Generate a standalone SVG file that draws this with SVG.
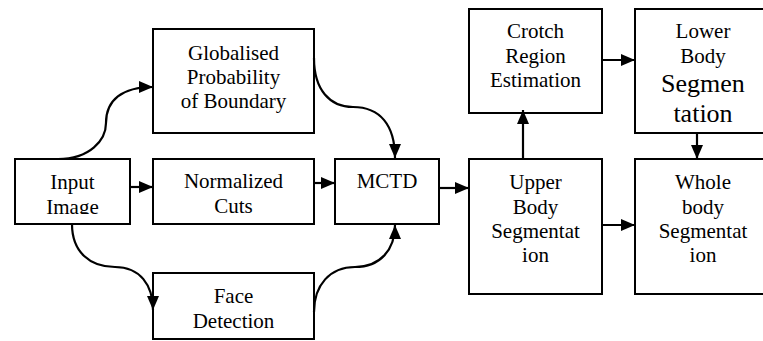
<svg xmlns="http://www.w3.org/2000/svg" width="763" height="341" viewBox="0 0 763 341">
<defs>
<marker id="ah" markerUnits="userSpaceOnUse" markerWidth="15" markerHeight="14" refX="14" refY="7" orient="auto">
<path d="M0,1 L14,7 L0,13 Z" fill="#000"/>
</marker>
<clipPath id="clipInput"><rect x="0" y="0" width="763" height="214"/></clipPath>
</defs>
<rect width="763" height="341" fill="#fff"/>
<g id="input"><rect x="15" y="159" width="115" height="65" fill="#fff" stroke="#000" stroke-width="2"/><g clip-path="url(#clipInput)"><text x="72.5" y="189" font-family="Liberation Serif" font-size="21" text-anchor="middle">Input</text><text x="72.5" y="214" font-family="Liberation Serif" font-size="21" text-anchor="middle">Image</text></g></g>
<g id="gpb"><rect x="153" y="29" width="161" height="104" fill="#fff" stroke="#000" stroke-width="2"/><text x="233.5" y="60" font-family="Liberation Serif" font-size="21" text-anchor="middle">Globalised</text><text x="233.5" y="84" font-family="Liberation Serif" font-size="21" text-anchor="middle">Probability</text><text x="233.5" y="108" font-family="Liberation Serif" font-size="21" text-anchor="middle">of Boundary</text></g>
<g id="ncuts"><rect x="153" y="159" width="161" height="65" fill="#fff" stroke="#000" stroke-width="2"/><text x="233.5" y="188" font-family="Liberation Serif" font-size="21" text-anchor="middle">Normalized</text><text x="233.5" y="213" font-family="Liberation Serif" font-size="21" text-anchor="middle">Cuts</text></g>
<g id="face"><rect x="153" y="273" width="161" height="66" fill="#fff" stroke="#000" stroke-width="2"/><text x="233.5" y="303" font-family="Liberation Serif" font-size="21" text-anchor="middle">Face</text><text x="233.5" y="328" font-family="Liberation Serif" font-size="21" text-anchor="middle">Detection</text></g>
<g id="mctd"><rect x="335" y="159" width="104" height="65" fill="#fff" stroke="#000" stroke-width="2"/><text x="387" y="188" font-family="Liberation Serif" font-size="21" text-anchor="middle">MCTD</text></g>
<g id="upper"><rect x="469" y="159" width="133" height="135" fill="#fff" stroke="#000" stroke-width="2"/><text x="535.5" y="189" font-family="Liberation Serif" font-size="21" text-anchor="middle">Upper</text><text x="535.5" y="214" font-family="Liberation Serif" font-size="21" text-anchor="middle">Body</text><text x="535.5" y="238" font-family="Liberation Serif" font-size="21" text-anchor="middle">Segmentat</text><text x="535.5" y="262" font-family="Liberation Serif" font-size="21" text-anchor="middle">ion</text></g>
<g id="crotch"><rect x="469" y="9" width="133" height="104" fill="#fff" stroke="#000" stroke-width="2"/><text x="535.5" y="38" font-family="Liberation Serif" font-size="21" text-anchor="middle">Crotch</text><text x="535.5" y="63" font-family="Liberation Serif" font-size="21" text-anchor="middle">Region</text><text x="535.5" y="87" font-family="Liberation Serif" font-size="21" text-anchor="middle">Estimation</text></g>
<g id="lower"><rect x="635" y="9" width="136" height="124" fill="#fff" stroke="#000" stroke-width="2"/><text x="703" y="38" font-family="Liberation Serif" font-size="21" text-anchor="middle">Lower</text><text x="703" y="63" font-family="Liberation Serif" font-size="21" text-anchor="middle">Body</text><text x="703" y="92" font-family="Liberation Serif" font-size="26" text-anchor="middle">Segmen</text><text x="703" y="122" font-family="Liberation Serif" font-size="26" text-anchor="middle">tation</text></g>
<g id="whole"><rect x="635" y="159" width="136" height="135" fill="#fff" stroke="#000" stroke-width="2"/><text x="703" y="189" font-family="Liberation Serif" font-size="21" text-anchor="middle">Whole</text><text x="703" y="214" font-family="Liberation Serif" font-size="21" text-anchor="middle">body</text><text x="703" y="238" font-family="Liberation Serif" font-size="21" text-anchor="middle">Segmentat</text><text x="703" y="262" font-family="Liberation Serif" font-size="21" text-anchor="middle">ion</text></g>
<g id="connectors" fill="none" stroke="#000" stroke-width="2.2">
<path d="M58,159 C90,159 106,140 106,123 C106,100 122,87 153,87" marker-end="url(#ah)"/>
<path d="M130,187 L153,187" marker-end="url(#ah)"/>
<path d="M72,224 C72,252 90,267 115,267 C140,267 153,285 153,310" marker-end="url(#ah)"/>
<path d="M314,58 C314,90 330,107 353,107 C380,107 395,125 395,158" marker-end="url(#ah)"/>
<path d="M314,183 L335,183" marker-end="url(#ah)"/>
<path d="M314,312 C314,285 330,267 355,267 C380,267 395,250 395,225" marker-end="url(#ah)"/>
<path d="M439,188 L469,188" marker-end="url(#ah)"/>
<path d="M523,159 L523,110" marker-end="url(#ah)"/>
<path d="M602,60 L635,60" marker-end="url(#ah)"/>
<path d="M697,133 L697,159" marker-end="url(#ah)"/>
<path d="M602,225 L635,225" marker-end="url(#ah)"/>
</g>
</svg>
